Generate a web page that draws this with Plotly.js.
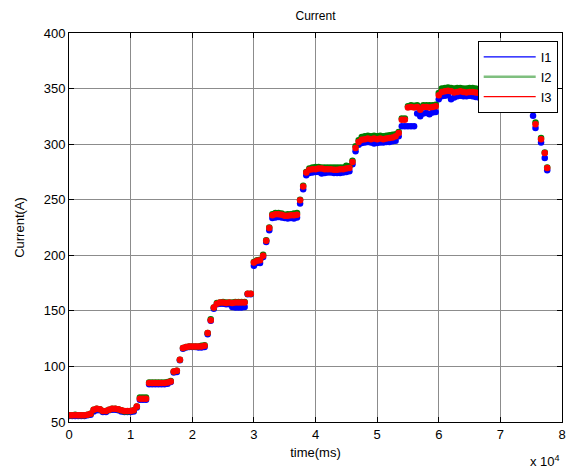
<!DOCTYPE html>
<html>
<head>
<meta charset="utf-8">
<script src="https://cdn.plot.ly/plotly-3.0.1.min.js"></script>
<style>html,body{margin:0;padding:0;background:#fff;}#chart{width:572px;height:471px;}</style>
</head>
<body>
<div id="chart"></div>
<script>
// time (ms)
var time = [
  0,500,1000,1500,2000,2500,3000,
  3500,
  4000,4500,5000,
  5500,6000,
  6500,7000,7500,8000,
  8500,9000,9500,10000,10500,
  11000,
  11500,12000,12500,
  13000,13500,14000,14500,15000,15500,16000,16500,
  17000,17500,
  18000,
  18500,19000,19500,20000,20500,21000,21500,22000,
  22500,
  23000,
  23500,
  24000,24500,25000,25500,26000,26500,27000,27500,28000,28500,
  29000,29500,
  30000,
  30500,
  31000,
  31500,
  32000,
  32500,
  33000,33500,34000,34500,35000,35500,36000,36500,37000,
  37500,
  38000,
  38500,
  39000,39500,40000,40500,41000,41500,42000,42500,43000,43500,44000,44500,45000,
  45500,
  46000,
  46500,
  47000,
  47500,48000,48500,49000,49500,50000,50500,51000,51500,52000,52500,53000,
  53500,
  54000,54500,
  55000,55500,56000,
  56500,57000,57500,58000,58500,59000,59500,
  60000,
  60500,61000,61500,62000,62500,63000,63500,64000,64500,65000,65500,66000,
  66500,67000,67500,68000,68500,69000,69500,70000,70500,71000,71500,72000,72500,73000,73500,74000,74500,75000,
  75300,75700,76600,77200,77600
];

var I1 = [
  55.5,55.5,55.5,55.5,55.5,55.5,56,
  56.5,
  59.5,60.5,60.5,
  59,59,
  60.5,61,61,60.5,
  59.5,59,59,59,59.5,
  63,
  70,70,70,
  84,84,84,84,84,84,84.5,86,
  94.5,95,
  105.5,
  116,117,117.5,117.5,117.5,117,117,117.5,
  129,
  141,
  152,
  156,156.5,156.5,156,156,153.5,153,153,153,153.5,
  165,165,
  190.5,
  193,
  193,
  198.5,
  212,
  222.5,
  233.5,234,234.5,234,233.5,233,233.5,233,234,
  246.5,
  259.5,
  272,
  274,274.5,275,275,273.5,274,274.5,274.5,274,274,274,274.5,275,
  275.5,
  282,
  293.5,
  299.5,
  301,301.5,302,301.5,300.5,301,301.5,301.5,302,302,302.5,303,
  307,
  316,316,
  316,316,316,
  327.5,325,327.5,328,327,328.5,329,
  340.5,
  343,343.5,344,340.5,342,343,343.5,343,343,343.5,343,342.5,
  342,342,341.5,341,341,340.5,340.5,340,340,339.5,339.5,339,339,338.5,338.5,338,338,337.5,
  325.5,314.5,301.5,287.5,276.5
];

var I2 = [
  56,56,56.5,56,56,56,56.5,
  57.5,
  61,62,61.5,
  60,60,
  61,62,62,61.5,
  60.5,59.5,59.5,60,60.5,
  64,
  72,72,72,
  85.5,85.5,85.5,85.5,85.5,85.5,86,87,
  95.5,96,
  106,
  116.5,117.5,118,118,118,118,118.5,119,
  130,
  142.5,
  153,
  157,157.5,158,157.5,157.5,157.5,158,158,158,158,
  165.5,165.5,
  194,
  195.5,
  196,
  200.5,
  213.5,
  225,
  237,238,238,237.5,236.5,237,237,237.5,238,
  250,
  262.5,
  275,
  278,279,279.5,279.5,279,279,279,279,279,279,279,279,280.5,
  280,
  285,
  298,
  303.5,
  306.5,307,307.5,307,307.5,307,307.5,307,307.5,308,308.5,309,
  311,
  323,323,
  334,335,334.5,
  335,333,335,335,335,335,335.5,
  346,
  350,350.5,351,350.5,350,350.5,350.5,350,350,350.5,350.5,350,
  348.5,348.5,348,347.5,347.5,347,347,346.5,346.5,346,346,345.5,345.5,345,345,344.5,344.5,344,
  332,319.5,305.5,292.5,279
];

var I3 = [
  56,56,56,56,56,56,56.5,
  57.5,
  61,62,61.5,
  60,60,
  61,62,62,61.5,
  60.5,60,60,60,60.5,
  64,
  71,71,71,
  85,85,85,85,85,85,85.5,86.5,
  95.5,96,
  106,
  116.5,117.5,118,118,118,118,118,118.5,
  130,
  141.5,
  153,
  156.5,157.5,157.5,157,157.5,157,157.5,157.5,157.5,157.5,
  165.5,165.5,
  193.5,
  195,
  195.5,
  199.5,
  213,
  224.5,
  236,237,237,236.5,235.5,235.5,236,236,236.5,
  249.5,
  262,
  274.5,
  277,277.5,277.5,278,278,277.5,277.5,277.5,277,277,277.5,277.5,278,
  278.5,
  284,
  296.5,
  302,
  304,304.5,305,304.5,305,304.5,305,304.5,305,305.5,306,307,
  310,
  322,322,
  333,333.5,333,
  333.5,331,333.5,333.5,333,333.5,334,
  344,
  347,347.5,348,347.5,346.5,347,347.5,347,346.5,347,347,346.5,
  346,346,345.5,345,345,344.5,344.5,344,344,343.5,343.5,343,343,342.5,342.5,342,342,341.5,
  331,318,304.5,292,278.5
];

var seriesNames = ['I1','I2','I3'];
var seriesColors = ['#0000ff','#008000','#ff0000'];
var legendColors = ['#0000ff','#7fbf7f','#ff0000'];
var seriesData = [I1, I2, I3];
var xTickVals = [0,10000,20000,30000,40000,50000,60000,70000,80000];
var xTickText = ['0','1','2','3','4','5','6','7','8'];

var traces = [];
for (var i = 0; i < 3; i++) {
  traces.push({
    x: time, y: seriesData[i], type: 'scatter', mode: 'markers',
    marker: {color: seriesColors[i], size: 6.5, line: {width: 0}},
    showlegend: false, hoverinfo: 'skip'
  });
}
for (var j = 0; j < 3; j++) {
  traces.push({
    x: [null], y: [null], type: 'scatter', mode: 'lines',
    line: {color: legendColors[j], width: j === 1 ? 2.5 : 1.2},
    name: seriesNames[j], showlegend: true
  });
}

var axisCommon = {
  showline: true, linecolor: '#000', linewidth: 1, mirror: 'ticks',
  ticks: 'inside', ticklen: 5, tickcolor: '#000', tickwidth: 1,
  showgrid: true, gridcolor: '#8c8c8c', gridwidth: 1, zeroline: false,
  tickfont: {family: 'Liberation Sans, Arial, sans-serif', size: 13, color: '#000'}
};

var layout = {
  width: 572, height: 471,
  margin: {l: 68.5, r: 9.5, t: 33, b: 48.5},
  paper_bgcolor: '#fff', plot_bgcolor: '#fff',
  font: {family: 'Liberation Sans, Arial, sans-serif', size: 13, color: '#000'},
  title: {text: 'Current', font: {size: 12, color: '#000'}, x: 0.5, xref: 'paper', xanchor: 'center', y: 0.966, yanchor: 'middle'},
  xaxis: Object.assign({}, axisCommon, {
    range: [0, 80000], tickmode: 'array', tickvals: xTickVals, ticktext: xTickText,
    title: {text: 'time(ms)', font: {size: 13}, standoff: 7}
  }),
  yaxis: Object.assign({}, axisCommon, {
    range: [50, 400], tickmode: 'linear', tick0: 50, dtick: 50,
    title: {text: 'Current(A)', font: {size: 13}, standoff: 16}
  }),
  legend: {
    x: 0.829, y: 0.9795, xanchor: 'left', yanchor: 'top',
    bgcolor: '#fff', bordercolor: '#000', borderwidth: 1,
    font: {size: 13, color: '#000'}, tracegroupgap: 0, itemwidth: 52
  },
  annotations: [{
    text: 'x 10<sup>4</sup>', xref: 'paper', yref: 'paper', x: 1.0, y: -0.1,
    xanchor: 'right', yanchor: 'middle', showarrow: false, font: {size: 13, color: '#000'}
  }],
  showlegend: true
};

Plotly.newPlot('chart', traces, layout, {displayModeBar: false, staticPlot: true});
</script>
</body>
</html>
